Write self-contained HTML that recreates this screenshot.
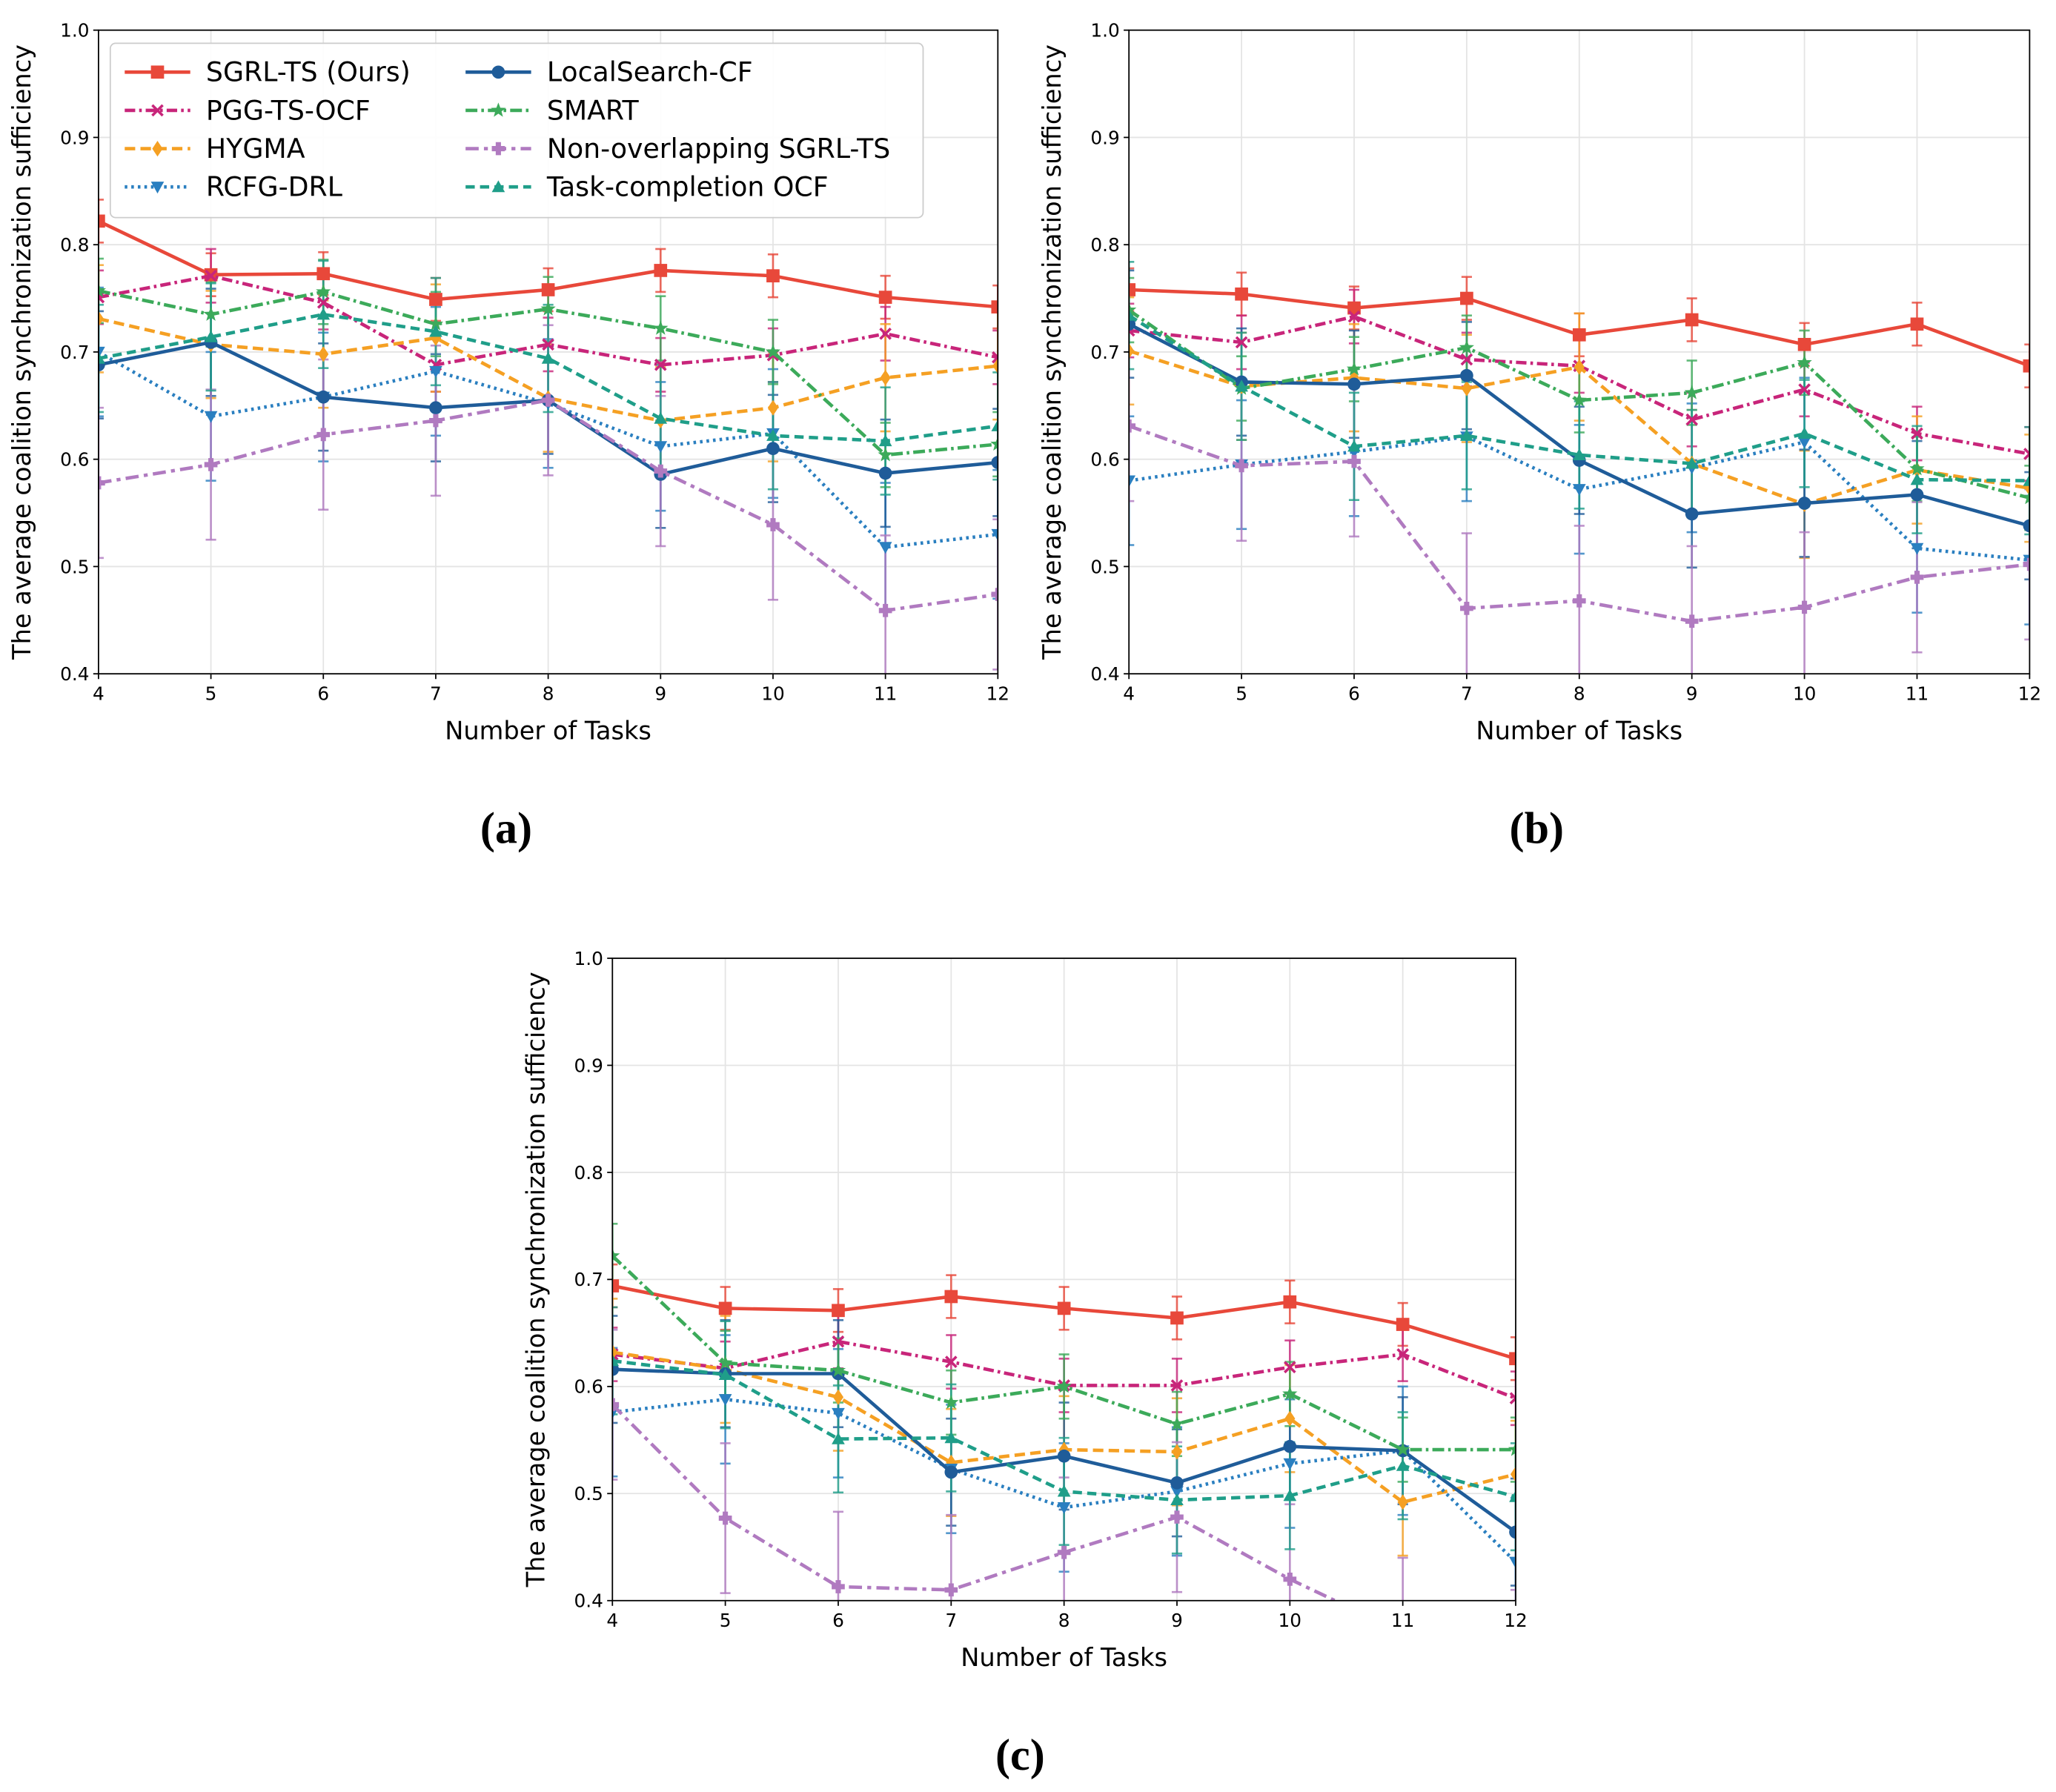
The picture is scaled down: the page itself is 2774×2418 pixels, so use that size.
<!DOCTYPE html>
<html><head><meta charset="utf-8"><style>
html,body{margin:0;padding:0;background:#fff}
svg{display:block}
text{font-family:"DejaVu Sans","Liberation Sans",sans-serif}
</style></head><body>
<svg id="fig" width="2774" height="2418" viewBox="0 0 1568 1367" xmlns="http://www.w3.org/2000/svg"></svg>
<script>
const ticksX=[4,5,6,7,8,9,10,11,12];
const ticksY=[0.4,0.5,0.6,0.7,0.8,0.9,1.0];
const seriesNames=["SGRL-TS (Ours)","PGG-TS-OCF","HYGMA","RCFG-DRL","LocalSearch-CF","SMART","Non-overlapping SGRL-TS","Task-completion OCF"];
const errs=[0.02,0.025,0.05,0.06,0.05,0.03,0.07,0.05];
const dataA=[
[.822,.772,.773,.749,.758,.776,.771,.751,.742],
[.751,.771,.746,.688,.707,.688,.697,.717,.695],
[.731,.707,.698,.713,.657,.636,.648,.676,.687],
[.700,.640,.658,.682,.652,.612,.624,.518,.530],
[.688,.709,.658,.648,.655,.586,.610,.587,.597],
[.757,.735,.756,.726,.740,.722,.700,.604,.614],
[.578,.595,.623,.636,.655,.589,.539,.459,.474],
[.694,.714,.735,.719,.694,.638,.622,.617,.631]];
const dataB=[
[.758,.754,.741,.750,.716,.730,.707,.726,.687],
[.720,.709,.733,.693,.687,.637,.665,.624,.605],
[.701,.668,.676,.666,.686,.596,.558,.590,.573],
[.580,.595,.607,.621,.572,.592,.616,.517,.506],
[.726,.672,.670,.678,.599,.549,.559,.567,.538],
[.739,.666,.684,.704,.655,.662,.690,.591,.564],
[.631,.594,.598,.461,.468,.449,.462,.490,.502],
[.734,.668,.612,.622,.604,.596,.624,.581,.580]];
const dataC=[
[.694,.673,.671,.684,.673,.664,.679,.658,.626],
[.630,.617,.642,.623,.601,.601,.618,.630,.589],
[.632,.616,.590,.529,.541,.539,.570,.492,.518],
[.576,.588,.575,.523,.487,.502,.528,.540,.436],
[.616,.612,.612,.520,.535,.510,.544,.540,.464],
[.722,.622,.615,.585,.600,.565,.593,.541,.541],
[.583,.477,.413,.410,.445,.478,.420,.370,.340],
[.624,.611,.551,.552,.502,.494,.498,.526,.497]];
const colors=["#e8483a","#c8257a","#f5a023","#2a7fc0","#1f5c99","#3caa5a","#b07ac0","#1f9e89"];
const dashes=["","8,3,2,3","8,4","2,3","","9,3,2,3","10,4,3,4","7,4"];
const markers=["s","x","d","v","o","*","p","^"];
const NS="http://www.w3.org/2000/svg";
const svg=document.getElementById('fig');
function el(tag,attrs,parent){const e=document.createElementNS(NS,tag);for(const k in attrs)e.setAttribute(k,attrs[k]);(parent||svg).appendChild(e);return e;}
function marker(g,m,x,y,c){
 const r=5;let e;
 if(m==="s")e=el('rect',{x:x-r,y:y-r,width:2*r,height:2*r,fill:c},g);
 else if(m==="o")e=el('circle',{cx:x,cy:y,r:r,fill:c},g);
 else if(m==="x")e=el('path',{d:`M${x-4},${y-4}L${x+4},${y+4}M${x-4},${y+4}L${x+4},${y-4}`,stroke:c,'stroke-width':2,fill:'none'},g);
 else if(m==="d")e=el('path',{d:`M${x},${y-6}L${x+4},${y}L${x},${y+6}L${x-4},${y}Z`,fill:c},g);
 else if(m==="v")e=el('path',{d:`M${x-5},${y-4}L${x+5},${y-4}L${x},${y+5}Z`,fill:c},g);
 else if(m==="^")e=el('path',{d:`M${x-5},${y+4}L${x+5},${y+4}L${x},${y-5}Z`,fill:c},g);
 else if(m==="p")e=el('path',{d:`M${x-2},${y-5}h4v3h3v4h-3v3h-4v-3h-3v-4h3Z`,fill:c},g);
 else {let d="";for(let i=0;i<10;i++){const a=-Math.PI/2+i*Math.PI/5,rr=i%2?2.5:6;d+=(i?"L":"M")+(x+rr*Math.cos(a)).toFixed(1)+","+(y+rr*Math.sin(a)).toFixed(1);}e=el('path',{d:d+"Z",fill:c},g);}
 
 
}
function panel(id,data,x0,x1,yb,yt,caption,cx,cy,legend){
 const g=el('g',{});
 
 
 const sx=v=>x0+(v-4)/8*(x1-x0), sy=v=>yb-(v-0.4)/0.6*(yb-yt);
 const cp=el('clipPath',{id:'cp'+id},g);el('rect',{x:x0,y:yt,width:x1-x0,height:yb-yt},cp);
 ticksX.forEach(t=>{el('line',{x1:sx(t),x2:sx(t),y1:yt,y2:yb,stroke:'#e4e4e4','stroke-width':1},g);
  el('line',{x1:sx(t),x2:sx(t),y1:yb,y2:yb+4,stroke:'#000'},g);
  const tx=el('text',{x:sx(t),y:yb+20,'font-size':14,'text-anchor':'middle'},g);tx.textContent=t;
  });
 ticksY.forEach(t=>{el('line',{x1:x0,x2:x1,y1:sy(t),y2:sy(t),stroke:'#e4e4e4'},g);
  el('line',{x1:x0-4,x2:x0,y1:sy(t),y2:sy(t),stroke:'#000'},g);
  const tx=el('text',{x:x0-7,y:sy(t)+5,'font-size':14,'text-anchor':'end'},g);tx.textContent=t.toFixed(1);
  });
 const pg=el('g',{'clip-path':`url(#cp${id})`},g);
 data.forEach((s,i)=>{
  const c=colors[i];
  s.forEach((v,j)=>{const x=sx(ticksX[j]);
   el('line',{x1:x,x2:x,y1:sy(v-errs[i]),y2:sy(v+errs[i]),stroke:c,'stroke-width':1.5,opacity:.8},pg);
   el('line',{x1:x-4,x2:x+4,y1:sy(v-errs[i]),y2:sy(v-errs[i]),stroke:c,'stroke-width':1.5,opacity:.8},pg);
   el('line',{x1:x-4,x2:x+4,y1:sy(v+errs[i]),y2:sy(v+errs[i]),stroke:c,'stroke-width':1.5,opacity:.8},pg);});
 });
 data.forEach((s,i)=>{
  const c=colors[i];
  const p=el('polyline',{points:s.map((v,j)=>sx(ticksX[j])+","+sy(v)).join(" "),fill:'none',stroke:c,'stroke-width':2.6,'stroke-dasharray':dashes[i]},pg);
  
  s.forEach((v,j)=>marker(pg,markers[i],sx(ticksX[j]),sy(v),c));
 });
 el('rect',{x:x0,y:yt,width:x1-x0,height:yb-yt,fill:'none',stroke:'#000','stroke-width':1},g);
 const xl=el('text',{x:(x0+x1)/2,y:yb+50,'font-size':19,'text-anchor':'middle'},g);xl.textContent="Number of Tasks";
 
 const yx=x0-52,yy=(yt+yb)/2;
 const yl=el('text',{x:yx,y:yy,'font-size':19,'text-anchor':'middle',transform:`rotate(-90 ${yx} ${yy})`},g);yl.textContent="The average coalition synchronization sufficiency";
 
 const cap=el('text',{x:cx,y:cy,'text-anchor':'middle',style:'font-family:"Liberation Serif",serif;font-size:34px;font-weight:bold'},g);cap.textContent=caption;
 
 if(legend){
  const lg=el('g',{},g);
  
  el('rect',{x:84,y:33,width:620,height:133,rx:4,fill:'#fff',stroke:'#ccc','fill-opacity':.9},lg);
  seriesNames.forEach((n,i)=>{
   const col=i<4?0:1,row=i%4;const lx=col?355:95,ly=55+row*29.2;
   const e=el('g',{},lg);
   
   el('line',{x1:lx,x2:lx+50,y1:ly,y2:ly,stroke:colors[i],'stroke-width':2.6,'stroke-dasharray':dashes[i]},e);
   marker(e,markers[i],lx+25,ly,colors[i]);
   const t=el('text',{x:lx+62,y:ly+7,'font-size':20.5},e);t.textContent=n;
  });
 }
}
panel('a',dataA,75,761,514,23,"(a)",386,643,true);
panel('b',dataB,861,1548,514,23,"(b)",1172,643,false);
panel('c',dataC,467,1156,1221,731,"(c)",778,1350,false);
</script>
</body></html>
